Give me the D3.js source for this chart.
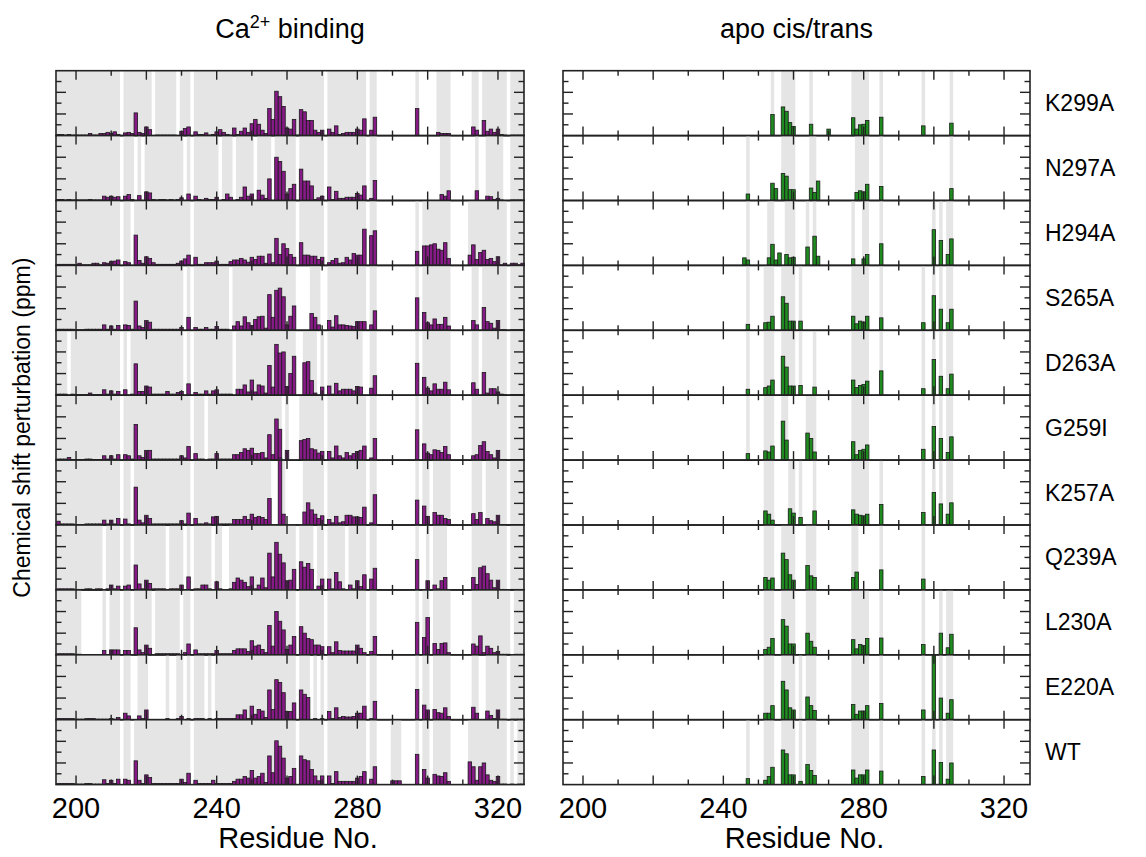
<!DOCTYPE html>
<html>
<head>
<meta charset="utf-8">
<script src="https://cdn.jsdelivr.net/npm/d3@7"></script>
<style>
  body { margin: 0; background: #fff; }
  svg { display: block; }
  text { font-family: "Liberation Sans", Arial, sans-serif; fill: #000; }
</style>
</head>
<body>
<svg id="chart" width="1146" height="857"></svg>
<script>
const _ = null;

// Panel order, top to bottom
const mutants = ["K299A", "N297A", "H294A", "S265A", "D263A", "G259I", "K257A", "Q239A", "L230A", "E220A", "WT"];

// Ca2+ binding chemical shift perturbations (ppm), residues 195..327 (null = not observed)
const caFirstResidue = 195;
const caK299A = [.01,.01,.005,.01,.005,
  .005,.005,.005,.005,.02,.005,.005,.02,.02,.03,
  .02,.035,.01,_,.025,.03,.02,.21,.03,.02,
  .08,.055,_,.005,.005,.005,.005,.005,.005,_,
  .04,.065,.08,_,.035,.01,.01,.025,.005,.01,
  .035,.055,.03,.01,.005,.07,.01,.04,.07,.03,
  .11,.15,.105,.05,.02,.25,.15,.41,.36,.27,
  .07,.06,.15,.005,.24,.22,.14,.14,.05,.03,
  .05,_,.06,.03,.09,.01,.02,.03,.03,.03,
  .06,.05,.155,_,.05,.17,_,_,_,_,
  _,_,_,_,_,_,_,.25,_,_,
  _,_,_,.03,.02,.02,.02,_,_,_,
  _,_,_,.08,.05,_,.14,.04,.06,.03,
  .06,.01,.005,_,.005,.005,.005,.005];
const caN297A = [.01,.01,.005,.01,.005,
  .005,.005,.005,.005,.01,.005,.005,.005,.04,.03,
  .04,.03,.035,_,.04,.055,.01,_,.045,_,
  .08,.07,.01,.005,.01,.01,.005,.01,.005,.01,
  .025,_,.06,_,.04,.01,.005,.02,.01,.01,
  .03,_,.01,.06,.03,_,.01,.03,.125,.04,
  .06,_,.095,.05,.02,.2,_,.40,.36,.27,
  .06,.11,.15,_,.29,.18,.18,.135,.01,.025,
  .04,_,.125,.01,.085,.02,.02,.03,.03,.03,
  .065,.05,.135,_,.02,.185,_,_,_,_,
  _,_,_,_,_,_,_,_,_,_,
  _,_,_,_,.055,.04,.09,_,_,_,
  _,_,_,_,.09,_,_,.04,.035,.01,
  .02,.005,_,_,.005,.005,.005,.005];
const caH294A = [.01,.01,.01,.01,.01,
  .005,.02,.005,.005,.005,.02,.02,.005,.025,.02,
  .035,.04,.05,_,.035,.025,_,.28,.045,.02,
  .08,.065,.025,.01,.01,.01,.01,.01,.01,.02,
  .04,.06,.095,_,.075,.01,.01,.025,.025,.025,
  .04,.01,.01,.01,.035,.05,.05,.065,.05,.03,
  .075,.055,.085,.085,.02,.105,.025,.25,.1,.2,
  .155,.1,.075,_,.21,.095,.095,.085,.085,.055,
  .075,_,.025,.045,.065,.02,.025,.075,.05,.11,
  .095,.095,.335,_,.275,.32,_,_,_,_,
  _,_,_,_,_,_,_,.13,_,.18,
  .18,.19,.2,.15,.14,.21,.065,_,_,_,
  _,_,.095,.19,.055,.12,.14,.055,.065,.035,
  .08,.005,.02,_,.02,.02,.005,.02];
const caS265A = [.01,.01,.01,.01,.01,
  .005,.005,.005,.01,.01,.01,.01,.01,.05,.01,
  .04,.01,.045,_,.05,.045,.01,.27,.04,.025,
  .09,.075,.01,.01,.01,.01,.01,.01,.01,.01,
  .025,_,.12,_,.025,.01,.01,.025,.01,.01,
  .035,.01,.01,.01,_,.04,.08,.04,.125,.07,
  .045,.1,.125,.13,.02,.33,.12,.37,.39,.31,
  .05,.13,.225,_,_,_,_,.155,.12,.05,
  _,_,.09,.03,.135,.05,.05,.045,.04,.035,
  .08,.08,.08,_,.05,.18,_,_,_,_,
  _,_,_,_,_,_,_,.3,_,.165,
  .07,.05,.105,.055,.055,.12,.04,_,_,_,
  _,_,_,.09,.05,_,.21,.08,.065,.02,
  .09,.005,.005,_,.005,.005,.005,.005];
const caD263A = [.01,.01,.01,_,.01,
  .005,.005,.005,.005,.02,.005,.005,.005,.05,.01,
  .04,.01,.035,_,.05,_,.01,.29,.035,.035,
  .085,.075,.01,.01,.01,.01,.035,.01,.01,.025,
  .035,_,.105,_,.025,.01,.01,.04,.01,.04,
  .05,.01,.01,.01,.01,_,.055,.055,.095,.03,
  .14,.03,.095,.085,.02,.275,.075,.47,.39,.4,
  .08,.2,.36,_,_,.3,.31,.135,.02,_,
  .075,_,.085,.01,.11,.04,.055,.055,.055,.04,
  .08,.075,_,_,.065,.18,_,_,_,_,
  _,_,_,_,_,_,_,.295,_,.165,
  .065,.04,.105,.055,.055,.12,.05,_,_,_,
  _,_,_,.115,.055,_,.21,.02,.06,.06,
  .03,.01,.005,_,.005,.005,.005,.005];
const caG259I = [.01,.01,.01,.025,.005,
  .005,.005,.005,.01,.01,.005,.005,.005,.04,.01,
  .04,.01,.05,_,.05,.04,.01,.33,.04,.025,
  .09,.09,.01,.01,.01,.01,.01,.01,.01,.01,
  .04,.02,.125,_,.06,.01,.01,_,.01,.01,
  .06,.01,.01,.01,.01,.05,.05,.07,.105,.09,
  .11,.06,.06,.07,.02,.235,.05,.38,.285,_,
  .09,_,_,_,.18,.19,.2,.105,.095,.065,
  .08,_,.08,.02,.13,.04,.02,.07,.04,.06,
  .08,.09,.13,_,.02,.2,_,_,_,_,
  _,_,_,_,_,_,_,.28,_,.15,
  .065,.05,.095,.09,.07,.125,.05,_,_,_,
  _,_,_,.04,.05,.135,.17,.08,.05,.02,
  .09,.005,.005,_,.005,.005,.005,.005];
const caK257A = [.035,.01,.01,.01,.01,
  .005,.005,.005,.01,.01,.01,.01,.01,.045,.01,
  .045,.01,.06,_,.055,.01,_,.35,.045,.02,
  .09,.06,.01,.01,.01,.01,.01,.01,.01,.01,
  .04,.01,.11,_,.06,.01,.01,.02,.01,.075,
  .08,.01,.01,.01,.01,.05,.05,.05,.08,.05,
  .1,.07,.08,.07,.05,.245,_,_,.62,.1,
  _,_,_,_,_,.12,.205,.14,.1,.06,
  .085,_,.05,.02,.08,.02,.03,.09,.09,.075,
  .075,.07,.165,_,.02,.28,_,_,_,_,
  _,_,_,_,_,_,_,.23,_,.175,
  .08,_,.115,.09,.09,.06,.05,_,_,_,
  _,_,_,.105,.05,.115,_,.06,.04,.03,
  .09,.005,.005,_,.005,.005,.005,.005];
const caQ239A = [.01,.01,.01,.01,.01,
  .005,.005,.005,.01,.01,.005,.01,.01,_,.01,
  .045,.01,.035,_,.035,.045,_,.23,.055,.01,
  .09,.06,.01,.01,.01,.01,_,.01,.01,.01,
  .045,_,.12,_,.01,.01,.045,.045,.01,_,
  .075,.01,_,_,.01,.07,.11,.09,.07,.03,
  .12,.01,.045,.11,.02,.34,.12,.44,.33,.25,
  .085,.09,.19,_,.26,.21,.245,.19,_,.035,
  .1,_,.1,.01,.16,.075,.01,_,.045,.01,
  .085,.03,.14,_,.1,.2,_,_,_,_,
  _,_,_,_,_,_,_,.28,_,_,
  .085,_,.045,.01,.085,.115,_,_,_,_,
  _,_,_,.115,.05,.205,.22,.15,.09,.02,
  .09,.005,.005,_,.005,.005,.005,.005];
const caL230A = [.01,.01,.01,.01,.01,
  .005,.005,_,_,_,_,_,_,.04,_,
  .045,.045,.045,_,.04,.04,_,.25,.045,.02,
  .09,.06,_,.01,.01,.01,.01,.01,.01,.01,
  _,.02,.1,_,.045,.01,.01,.01,.01,.01,
  .04,.01,.01,.01,.01,.04,.055,.055,.055,.03,
  .13,.08,.09,.05,.02,.27,.08,.4,.31,.23,
  .05,.09,.17,_,.26,.2,.15,.14,.09,.09,
  .075,_,.075,.02,.12,.04,.035,.035,.035,.035,
  .09,.06,.02,_,.03,.17,_,_,_,_,
  _,_,_,_,_,_,_,.3,_,.16,
  .345,_,.105,.05,.105,.11,.02,_,_,_,
  _,_,_,.1,.08,.175,.02,.08,.06,.02,
  .03,.005,.005,.005,_,.005,.005,.005];
const caE220A = [.01,.01,.01,.01,.01,
  .005,.005,.005,.01,.01,.01,.005,.005,.005,.005,
  .01,.005,.02,_,.06,.035,_,_,.035,.01,
  .09,_,_,_,_,_,.01,_,_,.01,
  .03,_,.01,_,.01,.01,.01,_,.01,_,
  .01,.01,.01,.01,.01,.01,.045,.045,.09,.01,
  .125,.05,.095,.08,.02,.275,.095,.37,.345,.25,
  .075,.075,.155,_,.275,.235,.205,_,.01,_,
  .01,_,.075,.01,.11,.02,.03,.025,.025,.03,
  .06,.06,.125,_,.01,.17,_,_,_,_,
  _,_,_,_,_,_,_,.28,_,.135,
  .09,_,.095,.065,.06,.11,.03,_,_,_,
  _,_,_,.115,.06,_,_,.08,.04,.01,
  .09,.005,.005,_,.005,.005,.005,.005];
const caWT = [.01,.01,.01,.01,.01,
  .005,.005,.005,.01,.01,.005,.005,.005,.045,.01,
  .04,.01,.05,_,.05,.04,_,.22,.04,.01,
  .09,.065,.01,.01,.01,.01,.01,.01,.01,.01,
  .05,.02,.105,_,.04,.01,.01,.01,.01,.04,
  .01,.01,.01,.01,.01,.03,.05,.05,.075,.06,
  .13,.06,.075,.105,.02,.265,.11,.405,.355,.245,
  .06,.075,.15,_,.265,.23,.22,.14,.08,.035,
  .08,_,.08,.01,.12,.03,.03,.03,.03,.03,
  .06,.075,.12,_,.05,.165,_,_,_,_,
  .035,.035,.035,_,_,_,_,.28,_,.14,
  .06,_,.095,.08,.075,.11,.03,_,_,_,
  _,_,.21,.165,.04,.165,.2,.09,.04,.03,
  .075,.005,.005,_,.005,_,.005,.005];
const caSeries = [caK299A, caN297A, caH294A, caS265A, caD263A, caG259I, caK257A, caQ239A, caL230A, caE220A, caWT];

// apo cis/trans perturbations (ppm) as [residue, value]
const apoK299A = [[254,.195],[257,.265],[258,.225],[259,.12],[260,.085],[265,.105],[270,.06],[277,.165],[278,.06],[279,.1],[280,.105],[281,.14],[285,.17],[297,.09],[305,.115]];
const apoN297A = [[247,.06],[254,.16],[255,.11],[257,.25],[258,.225],[259,.1],[260,.1],[265,.115],[266,.075],[267,.18],[278,.075],[279,.09],[280,.08],[281,.15],[285,.13],[305,.11]];
const apoH294A = [[246,.07],[247,.05],[253,.07],[254,.195],[255,.05],[256,.115],[258,.1],[259,.07],[260,.075],[264,.17],[266,.27],[267,.085],[277,.06],[280,.06],[281,.1],[285,.2],[300,.33],[302,.23],[304,.1],[305,.245]];
const apoS265A = [[247,.055],[252,.07],[253,.075],[254,.13],[257,.31],[258,.25],[259,.085],[260,.085],[262,.085],[277,.13],[278,.06],[279,.085],[280,.075],[281,.13],[285,.115],[297,.07],[300,.32],[302,.195],[304,.07],[305,.195]];
const apoD263A = [[247,.055],[252,.07],[253,.085],[254,.14],[257,.36],[258,.26],[259,.085],[260,.085],[262,.09],[266,.075],[277,.14],[278,.07],[279,.09],[280,.1],[281,.13],[285,.225],[297,.06],[300,.33],[302,.175],[304,.06],[305,.195]];
const apoG259I = [[247,.06],[252,.085],[253,.075],[254,.13],[257,.36],[258,.185],[264,.25],[265,.2],[266,.075],[277,.17],[278,.05],[279,.09],[280,.1],[281,.14],[297,.1],[300,.31],[302,.2],[304,.07],[305,.215]];
const apoK257A = [[252,.13],[253,.1],[254,.045],[259,.15],[260,.11],[262,.07],[266,.13],[277,.14],[278,.1],[279,.09],[280,.085],[281,.1],[285,.19],[297,.115],[300,.3],[302,.195],[304,.1],[305,.205]];
const apoQ239A = [[252,.115],[253,.09],[254,.11],[257,.34],[258,.28],[259,.14],[260,.09],[264,.225],[265,.13],[266,.115],[277,.115],[278,.165],[285,.185],[297,.1]];
const apoL230A = [[252,.05],[253,.07],[254,.15],[257,.325],[258,.265],[259,.1],[260,.1],[264,.2],[265,.125],[266,.07],[277,.14],[278,.055],[279,.095],[280,.085],[281,.15],[285,.155],[297,.095],[302,.2],[304,.065],[305,.19]];
const apoE220A = [[252,.06],[253,.06],[254,.13],[257,.355],[258,.275],[259,.11],[260,.09],[264,.21],[265,.13],[266,.085],[277,.14],[278,.05],[279,.08],[280,.08],[281,.13],[285,.15],[297,.09],[300,.6],[302,.2],[304,.06],[305,.185]];
const apoWT = [[247,.055],[252,.04],[253,.075],[254,.16],[257,.32],[258,.285],[259,.09],[260,.09],[262,.03],[264,.185],[265,.13],[266,.085],[277,.135],[278,.06],[279,.09],[280,.09],[281,.135],[285,.125],[297,.075],[300,.32],[302,.205],[304,.05],[305,.2]];
const apoSeries = [apoK299A, apoN297A, apoH294A, apoS265A, apoD263A, apoG259I, apoK257A, apoQ239A, apoL230A, apoE220A, apoWT];

// Residue ranges shaded in the apo panels (cis/trans doubled peaks)
const apoShade = [
  [[254,254],[257,260],[265,265],[277,281],[285,285],[297,297],[305,305]],
  [[247,247],[257,260],[265,266],[278,281],[285,285],[305,305]],
  [[247,247],[253,254],[258,260],[264,264],[266,266],[277,277],[280,281],[285,285],[300,300],[302,302],[304,305]],
  [[247,247],[252,254],[257,260],[262,262],[277,281],[285,285],[297,297],[300,300],[302,302],[304,305]],
  [[247,247],[252,254],[257,260],[262,262],[266,266],[277,281],[285,285],[297,297],[300,300],[302,302],[304,305]],
  [[247,247],[252,254],[257,258],[264,266],[277,281],[297,297],[300,300],[302,302],[304,305]],
  [[252,254],[259,260],[262,262],[266,266],[277,281],[285,285],[297,297],[300,300],[302,302],[304,305]],
  [[252,254],[257,260],[264,266],[277,278],[285,285],[297,297]],
  [[252,254],[257,260],[264,266],[277,281],[285,285],[297,297],[302,302],[304,305]],
  [[252,254],[257,260],[262,262],[264,266],[277,281],[285,285],[297,297],[300,300],[302,302],[304,305]],
  [[247,247],[252,254],[257,260],[262,262],[264,266],[277,281],[285,285],[297,297],[300,300],[302,302],[304,305]]
];

const xTicks = d3.range(200, 321, 10);
const xTickLabels = [200, 240, 280, 320];
const yTicks = [0.1, 0.2, 0.3, 0.4, 0.5];
const titles = { left: "Ca", leftSup: "2+", leftRest: " binding", right: "apo cis/trans" };

// ---- layout ----
const panelTop = 70.7, panelH = 64.9;
const xDomain = [194.3, 327.4];
const columns = [
  { x0: 56, x1: 524, fill: "#861a86" },
  { x0: 563, x1: 1030, fill: "#1f8a1f" }
];
const shadeColor = "#e5e5e5";

const svg = d3.select("#chart");
const y = d3.scaleLinear().domain([0, 0.6]).range([panelH, 0]);

columns.forEach((col, ci) => {
  const x = d3.scaleLinear().domain(xDomain).range([col.x0, col.x1]);
  const clampX = v => Math.max(col.x0, Math.min(col.x1, v));

  mutants.forEach((m, i) => {
    const g = svg.append("g").attr("transform", `translate(0,${panelTop + i * panelH})`);

    let bars, shades;
    if (ci === 0) {
      const vals = caSeries[i];
      bars = vals.map((v, k) => ({ r: caFirstResidue + k, v })).filter(d => d.v !== null);
      // shade contiguous runs of observed residues
      shades = [];
      let start = null, prev = null;
      bars.forEach(d => {
        if (start === null) { start = d.r; prev = d.r; }
        else if (d.r === prev + 1) { prev = d.r; }
        else { shades.push([start, prev]); start = d.r; prev = d.r; }
      });
      if (start !== null) shades.push([start, prev]);
    } else {
      bars = apoSeries[i].map(([r, v]) => ({ r, v }));
      shades = apoShade[i];
    }

    g.selectAll("rect.shade").data(shades).join("rect")
      .attr("class", "shade")
      .attr("x", d => clampX(x(d[0] - 0.5)))
      .attr("width", d => clampX(x(d[1] + 0.5)) - clampX(x(d[0] - 0.5)))
      .attr("y", 0).attr("height", panelH)
      .attr("fill", shadeColor);

    g.selectAll("rect.bar").data(bars).join("rect")
      .attr("class", "bar")
      .attr("x", d => x(d.r - 0.5))
      .attr("width", d => x(d.r + 0.5) - x(d.r - 0.5))
      .attr("y", d => y(d.v))
      .attr("height", d => y(0) - y(d.v))
      .attr("fill", col.fill)
      .attr("stroke", "#1a1a1a")
      .attr("stroke-width", 0.8);

    // frame
    g.append("rect")
      .attr("x", col.x0).attr("y", 0)
      .attr("width", col.x1 - col.x0).attr("height", panelH)
      .attr("fill", "none").attr("stroke", "#222").attr("stroke-width", 1.6);

    // x ticks, top and bottom, inward
    const tickLen = t => (t % 20 === 0 ? 9 : 5);
    g.selectAll("line.xt").data(xTicks).join("line")
      .attr("class", "xt")
      .attr("x1", d => x(d)).attr("x2", d => x(d))
      .attr("y1", 0).attr("y2", d => tickLen(d))
      .attr("stroke", "#222").attr("stroke-width", 1.4);
    g.selectAll("line.xb").data(xTicks).join("line")
      .attr("class", "xb")
      .attr("x1", d => x(d)).attr("x2", d => x(d))
      .attr("y1", panelH).attr("y2", d => panelH - tickLen(d))
      .attr("stroke", "#222").attr("stroke-width", 1.4);

    // y ticks, left and right, inward
    const yLen = t => (Math.round(t * 10) % 2 === 0 ? 10 : 5.5);
    g.selectAll("line.yl").data(yTicks).join("line")
      .attr("class", "yl")
      .attr("x1", col.x0).attr("x2", d => col.x0 + yLen(d))
      .attr("y1", d => y(d)).attr("y2", d => y(d))
      .attr("stroke", "#222").attr("stroke-width", 1.4);
    g.selectAll("line.yr").data(yTicks).join("line")
      .attr("class", "yr")
      .attr("x1", col.x1).attr("x2", d => col.x1 - yLen(d))
      .attr("y1", d => y(d)).attr("y2", d => y(d))
      .attr("stroke", "#222").attr("stroke-width", 1.4);

    if (ci === 1) {
      g.append("text")
        .attr("x", 1045).attr("y", panelH / 2 + 8)
        .attr("font-size", 23)
        .text(m);
    }
  });

  // bottom tick labels
  const bottom = panelTop + mutants.length * panelH;
  svg.selectAll(null).data(xTickLabels).join("text")
    .attr("x", d => x(d)).attr("y", bottom + 33)
    .attr("text-anchor", "middle")
    .attr("font-size", 29)
    .text(d => d);

  svg.append("text")
    .attr("x", (col.x0 + col.x1) / 2 + 8).attr("y", bottom + 63)
    .attr("text-anchor", "middle")
    .attr("font-size", 29)
    .text("Residue No.");
});

// column titles
const tLeft = svg.append("text")
  .attr("x", (columns[0].x0 + columns[0].x1) / 2).attr("y", 38)
  .attr("text-anchor", "middle").attr("font-size", 27);
tLeft.append("tspan").text(titles.left);
tLeft.append("tspan").attr("dy", -10).attr("font-size", 18).text(titles.leftSup);
tLeft.append("tspan").attr("dy", 10).text(titles.leftRest);

svg.append("text")
  .attr("x", (columns[1].x0 + columns[1].x1) / 2).attr("y", 38)
  .attr("text-anchor", "middle").attr("font-size", 27)
  .text(titles.right);

// y-axis title
svg.append("text")
  .attr("transform", `translate(30,${panelTop + mutants.length * panelH / 2}) rotate(-90)`)
  .attr("text-anchor", "middle")
  .attr("font-size", 23)
  .text("Chemical shift perturbation (ppm)");
</script>
</body>
</html>
